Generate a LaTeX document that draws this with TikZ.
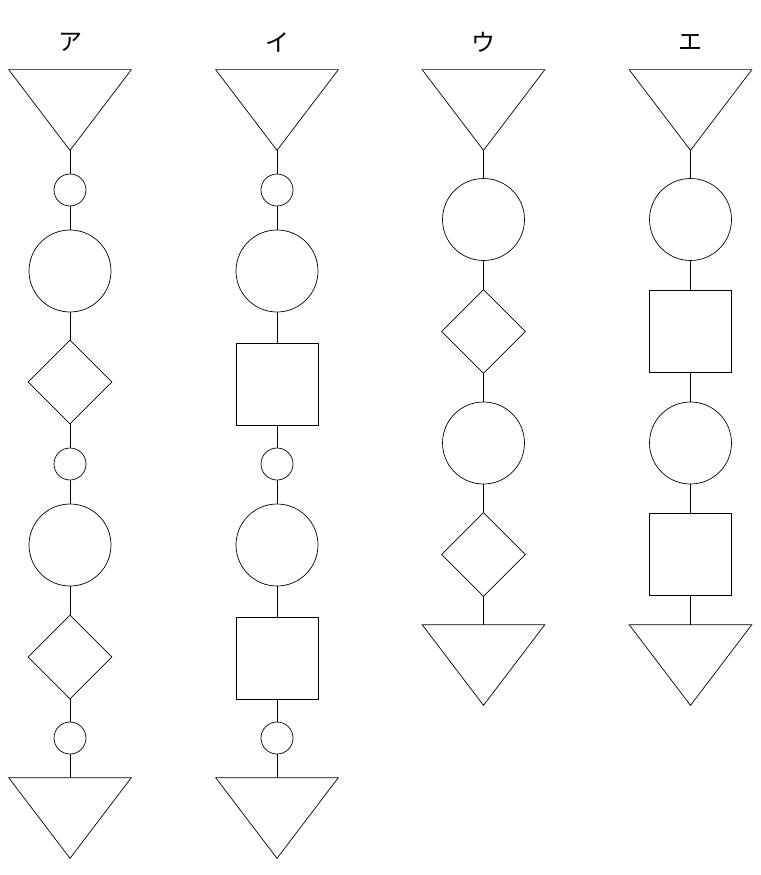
\documentclass[tikz,border=0pt]{standalone}
\usepackage{fontspec}
\newfontfamily\jpfont{Noto Sans CJK JP}
\usetikzlibrary{shapes.geometric}

\begin{document}
\begin{tikzpicture}[
    x=1pt,
    y=-1pt,
    line width=0.7pt,
    inner sep=0pt
]


\tikzstyle{small}=[circle, draw, minimum size=32pt]
\tikzstyle{big}=[circle, draw, minimum size=82pt]
\tikzstyle{dia}=[diamond, draw, minimum width=84pt, minimum height=84pt]
\tikzstyle{box}=[rectangle, draw, minimum size=82pt]
\tikzstyle{tri}=[rectangle, minimum width=122pt, minimum height=80pt]
\tikzstyle{heading}=[font=\jpfont\fontsize{24}{24}\selectfont]

\useasboundingbox (0,0) rectangle (760,875);

% column ア
\node[heading] (ha) at (70,42) {ア};
\node[tri] (a0) at (70,110) {};
\node[small] (a1) at (70,190) {};
\node[big] (a2) at (70,271) {};
\node[dia] (a3) at (70,382) {};
\node[small] (a4) at (70,464) {};
\node[big] (a5) at (70,545) {};
\node[dia] (a6) at (70,657) {};
\node[small] (a7) at (70,738) {};
\node[tri] (a8) at (70,818) {};

% column イ
\node[heading] (hb) at (277,42) {イ};
\node[tri] (b0) at (277,110) {};
\node[small] (b1) at (277,190) {};
\node[big] (b2) at (277,271) {};
\node[box] (b3) at (277,384) {};
\node[small] (b4) at (277,464) {};
\node[big] (b5) at (277,545) {};
\node[box] (b6) at (277,658) {};
\node[small] (b7) at (277,738) {};
\node[tri] (b8) at (277,818) {};

% column ウ
\node[heading] (hc) at (483.5,42) {ウ};
\node[tri] (c0) at (483.5,110) {};
\node[big] (c1) at (483.5,219.5) {};
\node[dia] (c2) at (483.5,331.5) {};
\node[big] (c3) at (483.5,443) {};
\node[dia] (c4) at (483.5,554.5) {};
\node[tri] (c5) at (483.5,665) {};

% column エ
\node[heading] (hd) at (690.5,42) {エ};
\node[tri] (d0) at (690.5,110) {};
\node[big] (d1) at (690.5,219.5) {};
\node[box] (d2) at (690.5,331) {};
\node[big] (d3) at (690.5,443) {};
\node[box] (d4) at (690.5,554) {};
\node[tri] (d5) at (690.5,665) {};

% triangles
\foreach \t in {a0,a8,b0,b8,c0,c5,d0,d5}
    \draw (\t.north west) -- (\t.north east) -- (\t.south) -- cycle;

% links
\foreach \u/\v in {a0/a1,a1/a2,a2/a3,a3/a4,a4/a5,a5/a6,a6/a7,a7/a8,
                   b0/b1,b1/b2,b2/b3,b3/b4,b4/b5,b5/b6,b6/b7,b7/b8,
                   c0/c1,c1/c2,c2/c3,c3/c4,c4/c5,
                   d0/d1,d1/d2,d2/d3,d3/d4,d4/d5}
    \draw (\u) -- (\v);

\end{tikzpicture}
\end{document}
